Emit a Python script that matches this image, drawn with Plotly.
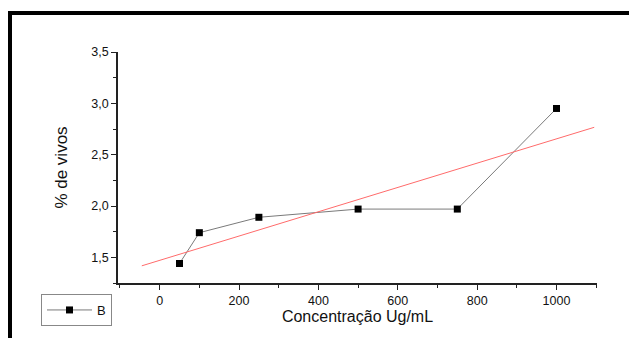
import numpy as np
import plotly.graph_objects as go

# Data
conc = [50, 100, 250, 500, 750, 1000]
vivos = [1.44, 1.74, 1.89, 1.97, 1.97, 2.95]
series_name = "B"
fit_x_span = [-45, 1095]
x_tick_vals = [0, 200, 400, 600, 800, 1000]
y_tick_vals = [1.5, 2.0, 2.5, 3.0, 3.5]

slope, intercept = np.polyfit(conc, vivos, 1)
fit_x = np.array(fit_x_span, dtype=float)
fit_y = slope * fit_x + intercept

W, H = 629, 338
L, R, T, B = 118, 32, 52, 55
pw, ph = W - L - R, H - T - B

def px_x(p):
    return (p - L) / pw

def px_y(p):
    return (H - B - p) / ph

font = "Liberation Sans, Arial, sans-serif"

fig = go.Figure()
fig.add_trace(go.Scatter(
    x=conc, y=vivos, mode="lines+markers", name=series_name,
    line=dict(color="#7a7a7a", width=1),
    marker=dict(symbol="square", size=7, color="black"),
))
fig.add_trace(go.Scatter(
    x=fit_x, y=fit_y, mode="lines", showlegend=False,
    line=dict(color="#ff6b6b", width=1),
))

axis_common = dict(
    showline=True, linecolor="#222222", linewidth=1.5,
    ticks="outside", ticklen=5, tickwidth=1.3, tickcolor="#222222",
    showgrid=False, zeroline=False,
    tickfont=dict(family=font, size=12.5, color="#111111"),
)

fig.update_xaxes(
    range=[-105, 1102], tickvals=x_tick_vals,
    minor=dict(dtick=100, tick0=0, ticks="outside", ticklen=3, tickcolor="#222222", tickwidth=1.3),
    title=dict(text="Concentração Ug/mL", font=dict(family=font, size=16, color="#111111"), standoff=3),
    **axis_common,
)
fig.update_yaxes(
    range=[1.25, 3.5], tickvals=y_tick_vals, tickformat=".1f",
    minor=dict(dtick=0.25, tick0=0, ticks="outside", ticklen=3, tickcolor="#222222", tickwidth=1.3),
    title=dict(text="% de vivos", font=dict(family=font, size=17, color="#111111"), standoff=19),
    **axis_common,
)

fig.update_layout(
    width=W, height=H,
    margin=dict(l=L, r=R, t=T, b=B, pad=0),
    paper_bgcolor="white", plot_bgcolor="white",
    separators=",.",
    showlegend=True,
    legend=dict(
        x=px_x(41), y=px_y(294), xanchor="left", yanchor="top",
        bordercolor="#888888", borderwidth=1, bgcolor="white",
        font=dict(family=font, size=13, color="#111111"),
        itemwidth=45, tracegroupgap=0,
    ),
    shapes=[
        dict(type="line", xref="paper", yref="paper",
             x0=px_x(10), x1=px_x(10), y0=px_y(345), y1=px_y(13),
             line=dict(color="black", width=4)),
        dict(type="line", xref="paper", yref="paper",
             x0=px_x(8), x1=px_x(640), y0=px_y(13), y1=px_y(13),
             line=dict(color="black", width=4)),
    ],
)

fig.write_html("out.html")
